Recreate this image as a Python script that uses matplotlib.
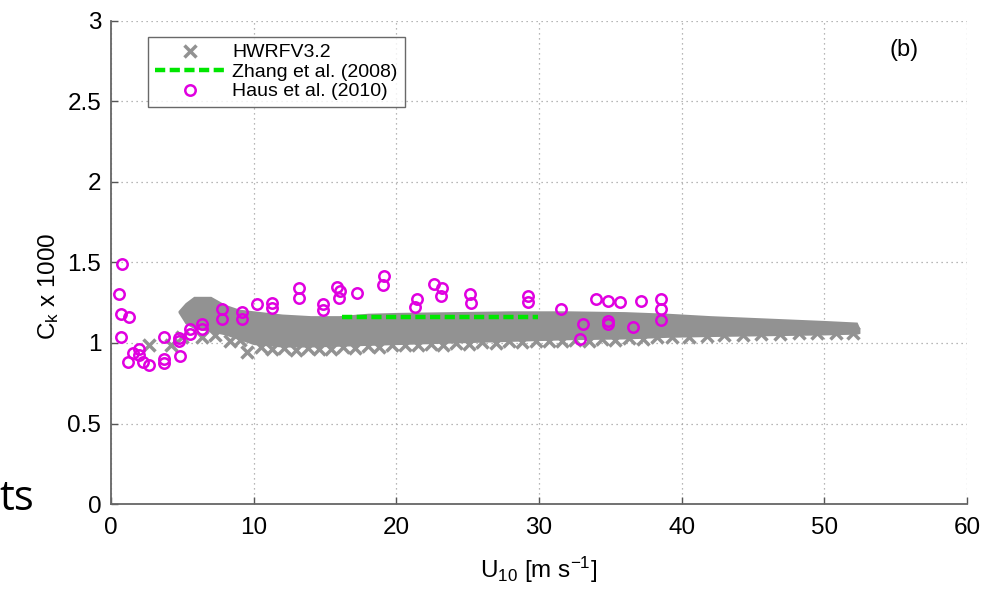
import matplotlib
matplotlib.use("Agg")
import matplotlib.pyplot as plt

plt.rcParams["font.family"] = ["Liberation Sans", "DejaVu Sans"]
plt.rcParams["mathtext.fontset"] = "custom"
plt.rcParams["mathtext.rm"] = "Liberation Sans"
plt.rcParams["mathtext.it"] = "Liberation Sans:italic"

# HWRFV3.2 cloud: dense band read as upper / lower envelope
band_x = [4.7, 5.2, 5.8, 7.0, 8.0, 9.0, 10.0, 12.0, 14.0, 16.0, 18.0, 20.0,
          24.0, 28.0, 32.0, 36.0, 39.0, 42.0, 46.0, 50.0, 52.3, 52.5]
band_hi = [1.20, 1.25, 1.29, 1.29, 1.24, 1.21, 1.20, 1.18, 1.17, 1.17, 1.185, 1.19,
           1.195, 1.20, 1.20, 1.195, 1.185, 1.17, 1.155, 1.14, 1.13, 1.09]
band_lo = [1.19, 1.12, 1.09, 1.07, 1.05, 1.02, 0.99, 0.975, 0.975, 0.98, 0.985, 0.99,
           1.0, 1.01, 1.02, 1.025, 1.035, 1.04, 1.045, 1.05, 1.055, 1.06]

# HWRFV3.2 single x markers (outliers and ragged lower edge)
hwrf_x = [2.7, 4.2, 5.0, 6.36, 7.29, 8.34, 9.04, 9.51,
          10.5, 11.3, 12.1, 13.0, 13.8, 14.6, 15.4, 16.3, 17.1, 18.0, 18.8,
          19.7, 20.6, 21.5, 22.4, 23.3, 24.2, 25.1, 26.0, 27.0, 27.9, 28.8,
          29.8, 30.7, 31.6, 32.5, 33.5, 34.4, 35.3, 36.3, 37.3, 38.3,
          39.3, 40.5, 41.8, 43.0, 44.3, 45.6, 46.9, 48.2, 49.5, 50.8, 52.0]
hwrf_y = [0.985, 0.985, 1.04, 1.04, 1.05, 1.01, 1.02, 0.946,
          0.975, 0.96, 0.97, 0.955, 0.97, 0.965, 0.96, 0.975, 0.97, 0.98, 0.975,
          0.985, 0.99, 0.985, 0.995, 0.99, 1.0, 0.995, 1.005, 1.0, 1.01, 1.005,
          1.01, 1.015, 1.01, 1.02, 1.015, 1.025, 1.02, 1.03, 1.025, 1.035,
          1.04, 1.04, 1.045, 1.05, 1.05, 1.055, 1.055, 1.06, 1.06, 1.065, 1.065]

# Zhang et al. (2008)
zhang_x = [16.2, 29.9]
zhang_y = [1.16, 1.16]

# Haus et al. (2010)
haus_x = [0.75, 0.58, 0.68, 1.26, 0.68, 1.21, 1.56, 1.98, 1.98, 2.26, 2.68,
          3.71, 3.71, 3.71, 4.79, 4.79, 4.84, 5.54, 5.54, 6.40, 6.40,
          7.80, 7.80, 9.20, 9.20, 10.21, 11.30, 11.30, 13.15, 13.15,
          14.86, 14.84, 15.84, 16.05, 15.98, 17.22, 19.13, 19.04,
          21.42, 21.30, 22.63, 23.22, 23.17, 25.16, 25.21, 29.24, 29.20,
          31.58, 33.06, 32.91, 33.99, 34.81, 35.67, 34.83, 34.83, 36.58,
          37.12, 38.54, 38.54, 38.54]
haus_y = [1.489, 1.304, 1.180, 1.163, 1.036, 0.884, 0.936, 0.961, 0.925, 0.884, 0.862,
          1.039, 0.899, 0.878, 1.033, 1.012, 0.919, 1.085, 1.054, 1.118, 1.085,
          1.211, 1.147, 1.194, 1.147, 1.242, 1.247, 1.216, 1.340, 1.278,
          1.242, 1.205, 1.350, 1.323, 1.281, 1.309, 1.416, 1.358,
          1.273, 1.225, 1.365, 1.340, 1.292, 1.302, 1.250, 1.292, 1.257,
          1.211, 1.118, 1.027, 1.275, 1.261, 1.255, 1.139, 1.118, 1.101,
          1.263, 1.275, 1.211, 1.143]

xticks = [0, 10, 20, 30, 40, 50, 60]
yticks = [0, 0.5, 1, 1.5, 2, 2.5, 3]
ytick_labels = ["0", "0.5", "1", "1.5", "2", "2.5", "3"]

gray = "#929292"
magenta = "#e000e0"
green = "#00e600"

fig = plt.figure(figsize=(9.96, 5.91), dpi=100)
ax = fig.add_axes([0.1114, 0.1472, 0.8594, 0.8173])

ax.fill_between(band_x, band_lo, band_hi, color=gray, lw=0, zorder=2)
ax.plot(hwrf_x, hwrf_y, ls="none", marker="x", ms=8, mew=2.5, color=gray,
        label="HWRFV3.2", zorder=2)
ax.plot(zhang_x, zhang_y, color=green, lw=3.2, dashes=(2.3, 1.0),
        label="Zhang et al. (2008)", zorder=3)
ax.plot(haus_x, haus_y, ls="none", marker="o", ms=7.5, mew=1.8, mfc="none",
        mec=magenta, label="Haus et al. (2010)", zorder=4)

ax.set_xlim(0, 60)
ax.set_ylim(0, 3)
ax.set_xticks(xticks)
ax.set_yticks(yticks)
ax.set_yticklabels(ytick_labels)
ax.tick_params(direction="in", length=5, width=1, color="#555555",
               labelsize=17.5)
ax.tick_params(axis="x", pad=9)
ax.tick_params(axis="y", pad=7)
ax.grid(True, color="#a0a0a0", lw=0.9, ls=(0, (1, 3)))
for side in ["top", "right"]:
    ax.spines[side].set_visible(False)
for side in ["left", "bottom"]:
    ax.spines[side].set_color("#666666")
    ax.spines[side].set_linewidth(1.3)

ax.set_xlabel(r"U$_{\mathregular{10}}$ [m s$^{\mathregular{-1}}$]", fontsize=17.5, labelpad=12)
ax.set_ylabel(r"C$_{\mathregular{k}}$ x 1000", fontsize=17.5)
ax.yaxis.set_label_coords(-0.058, 0.45)

ax.text(55.6, 2.82, "(b)", fontsize=17, ha="center", va="center")

leg = ax.legend(loc="upper left", bbox_to_anchor=(0.043, 0.967), fontsize=14,
                frameon=True, fancybox=False, edgecolor="#444444",
                handlelength=3.6, handletextpad=0.4, labelspacing=0.1,
                borderpad=0.35, borderaxespad=0)
leg.get_frame().set_linewidth(1.0)

fig.text(0.034, 0.137, "ts", fontsize=30, ha="right", va="baseline",
         family=["Open Sans", "DejaVu Sans"])

fig.savefig("out.png", dpi=100)
